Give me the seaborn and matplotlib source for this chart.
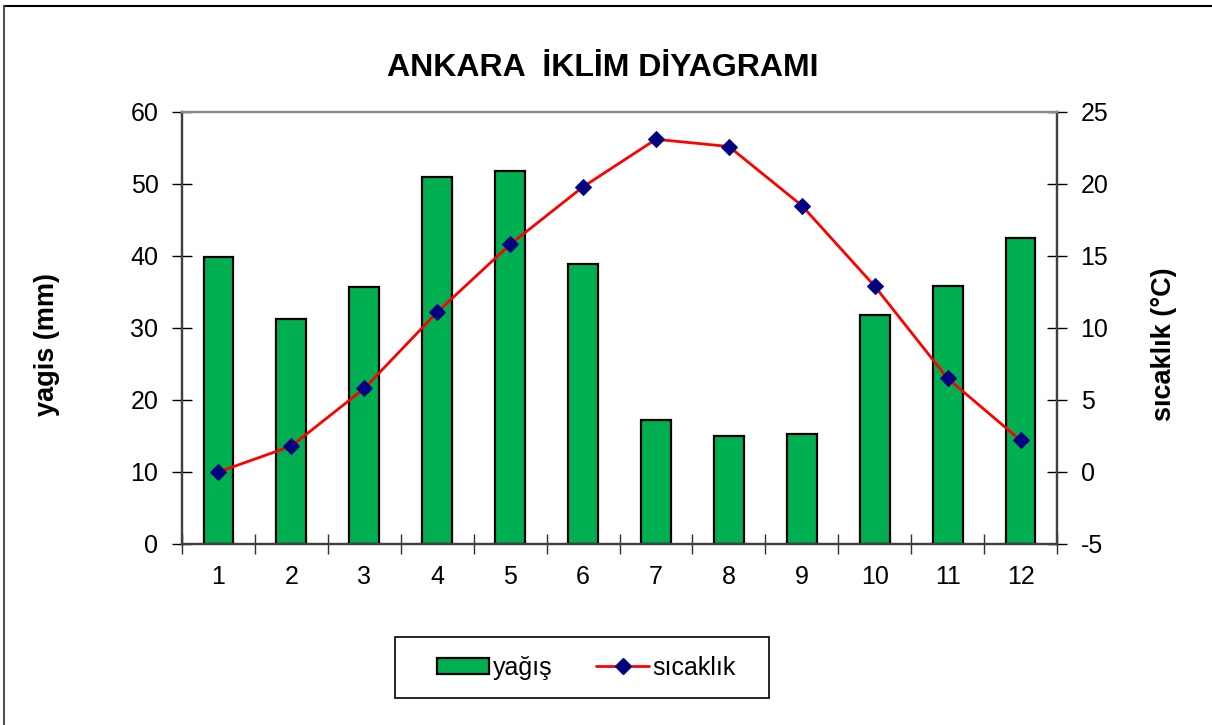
import seaborn as sns
from matplotlib import pyplot as plt
from matplotlib.lines import Line2D
from matplotlib.patches import Patch, Rectangle
import numpy as np
import pandas as pd

months = ["1", "2", "3", "4", "5", "6", "7", "8", "9", "10", "11", "12"]
yagis = [39.9, 31.2, 35.7, 51.0, 51.8, 38.9, 17.2, 15.0, 15.3, 31.8, 35.8, 42.5]
sicaklik = [0.0, 1.8, 5.8, 11.1, 15.8, 19.8, 23.1, 22.6, 18.5, 12.9, 6.5, 2.2]


def main():
    sns.set_theme(style="white")
    plt.rcParams['font.family'] = ['Liberation Sans', 'DejaVu Sans']
    plt.rcParams['axes.unicode_minus'] = False
    plt.rcParams['text.color'] = 'black'
    plt.rcParams['axes.labelcolor'] = 'black'

    df = pd.DataFrame({"ay": months, "yagis": yagis, "sicaklik": sicaklik})

    fig = plt.figure(figsize=(12.12, 7.25), dpi=100)
    ax = fig.add_axes([0.1502, 0.2497, 0.7219, 0.5959])

    sns.barplot(data=df, x="ay", y="yagis", ax=ax, color="#00B050",
                saturation=1, width=0.41, edgecolor="black", linewidth=1.6)
    ax.set_ylim(0, 60)
    ax.set_xlim(-0.5, 11.5)
    ax.set_yticks(np.arange(0, 61, 10))
    ax.set_xticks(np.arange(-0.5, 12, 1), minor=True)
    ax.tick_params(axis="x", which="major", length=0, labelsize=18, pad=15,
                   labelcolor="black")
    ax.tick_params(axis="x", which="minor", bottom=True, direction="inout", length=14,
                   width=1, color="#303030")
    ax.tick_params(axis="y", direction="inout", length=14, width=1, labelsize=18, pad=10,
                   left=True, color="black", labelcolor="black")
    ax.set_xlabel("")
    ax.set_ylabel("yagis (mm)", fontsize=19.5, fontweight="bold")
    ax.yaxis.set_label_coords(-0.139, 0.461)

    ax2 = ax.twinx()
    sns.lineplot(x=np.arange(len(months)), y=sicaklik, ax=ax2, color="red", linewidth=2,
                 marker="D", markersize=8, markerfacecolor="#000080",
                 markeredgecolor="#000080")
    ax2.set_ylim(-5, 25)
    ax2.set_yticks(np.arange(-5, 26, 5))
    ax2.tick_params(axis="y", direction="inout", length=14, width=1, labelsize=18, pad=10,
                    right=True, color="black", labelcolor="black")
    ax2.set_ylabel("sıcaklık (°C)", fontsize=19.5, fontweight="bold")
    ax2.yaxis.set_label_coords(1.108, 0.463)
    ax2.grid(False)
    ax.grid(False)

    for a in (ax, ax2):
        a.spines["top"].set_color("#8c8c8c")
        a.spines["left"].set_color("#404040")
        a.spines["right"].set_color("#404040")
        a.spines["bottom"].set_color("#404040")
        for s in a.spines.values():
            s.set_linewidth(1.6)

    fig.text(0.4975, 0.906, "ANKARA  İKLİM DİYAGRAMI", ha="center", va="center",
             fontsize=23, fontweight="bold")

    # legend box drawn separately so the padding can match
    fig.add_artist(Rectangle((395 / 1212, 1 - 698 / 725), 374 / 1212, 61 / 725,
                             transform=fig.transFigure, facecolor="white",
                             edgecolor="black", linewidth=1.2))
    handles = [Patch(facecolor="#00B050", edgecolor="black", linewidth=1.6),
               Line2D([0], [0], color="red", linewidth=2, marker="D", markersize=8,
                      markerfacecolor="#000080", markeredgecolor="#000080")]
    fig.legend(handles, ["yağış", "sıcaklık"], loc="center",
               bbox_to_anchor=(0.4839, 0.079), ncol=2, fontsize=18,
               frameon=False, borderpad=0.3, columnspacing=1.75, handlelength=2.1,
               handleheight=0.6, handletextpad=0.15, borderaxespad=0)

    # outer chart border (only top and left are visible)
    fig.add_artist(Line2D([0.0035, 1.0], [0.9917, 0.9917], color="black", linewidth=1.5,
                          transform=fig.transFigure))
    fig.add_artist(Line2D([0.0035, 0.0035], [0.0, 0.9917], color="#505050", linewidth=1.5,
                          transform=fig.transFigure))

    fig.savefig("out.png", dpi=100, facecolor="white")


if __name__ == "__main__":
    main()
